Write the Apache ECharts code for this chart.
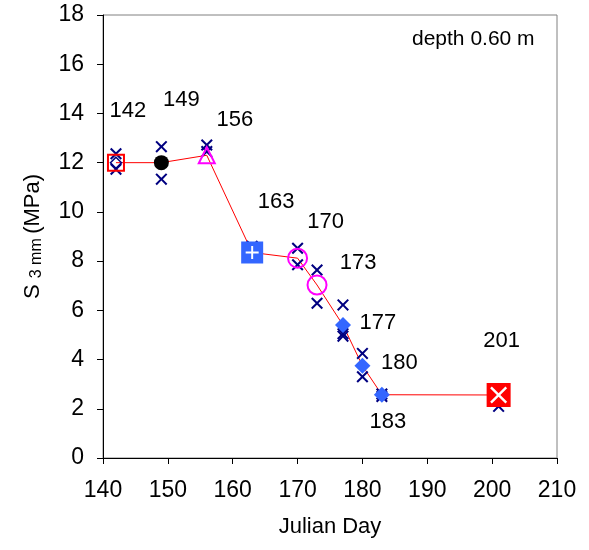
<!DOCTYPE html>
<html>
<head>
<meta charset="utf-8">
<script src="https://cdn.jsdelivr.net/npm/echarts@6/dist/echarts.min.js"></script>
<style>
html,body{margin:0;padding:0;background:#fff;}
#chart{width:589px;height:550px;}
</style>
</head>
<body>
<div id="chart"></div>
<script>
// ---- data ----
const days = [142, 149, 156, 163, 170, 173, 177, 180, 183, 201];
const meanS3 = [12.0, 12.0, 12.3, 8.35, 8.12, 7.03, 5.4, 3.75, 2.57, 2.56];
const dayLabels = ['142', '149', '156', '163', '170', '173', '177', '180', '183', '201'];
const repDays = [142, 142, 149, 149, 156, 156, 163, 163, 170, 170, 173, 173, 177, 177, 177, 180, 180, 183, 183, 201, 201];
const repS3 = [12.36, 11.73, 12.65, 11.33, 12.72, 12.45, 8.6, 8.25, 8.52, 7.85, 7.64, 6.29, 6.22, 5.05, 4.95, 4.25, 3.3, 2.6, 2.5, 2.1, 2.55];
const xMin = 140, xMax = 210, xStep = 10;
const yMin = 0, yMax = 18, yStep = 2;
const depthText = 'depth 0.60 m';

// ---- styles ----
const FONT = "'Liberation Sans', Arial, sans-serif";
const BLUE = '#3366FF', MAG = '#FF00FF', RED = '#FF0000', NAVY = '#000080';
const X_PATH = 'path://M0,1.2L1.2,0L5,3.8L8.8,0L10,1.2L6.2,5L10,8.8L8.8,10L5,6.2L1.2,10L0,8.8L3.8,5Z';
const THIN_X = 'path://M0,1L1,0L5,4L9,0L10,1L6,5L10,9L9,10L5,6L1,10L0,9L4,5Z';
const PLUS = 'path://M4.25,0H5.75V4.25H10V5.75H5.75V10H4.25V5.75H0V4.25H4.25Z';
const markerStyles = [
  {symbol: 'rect', size: 16, item: {color: 'rgba(0,0,0,0)', borderColor: RED, borderWidth: 2, opacity: 1}},
  {symbol: 'circle', size: 15, item: {color: '#000', opacity: 1}},
  {symbol: 'triangle', size: 16, item: {color: 'rgba(0,0,0,0)', borderColor: MAG, borderWidth: 2, opacity: 1}},
  {symbol: 'rect', size: 22, item: {color: BLUE, opacity: 1}},
  {symbol: 'circle', size: 19, item: {color: 'rgba(0,0,0,0)', borderColor: MAG, borderWidth: 2, opacity: 1}},
  {symbol: 'circle', size: 19, item: {color: 'rgba(0,0,0,0)', borderColor: MAG, borderWidth: 2, opacity: 1}},
  {symbol: 'diamond', size: 16, item: {color: BLUE, opacity: 1}},
  {symbol: 'diamond', size: 16, item: {color: BLUE, opacity: 1}},
  {symbol: 'diamond', size: 16, item: {color: BLUE, opacity: 1}},
  {symbol: 'rect', size: 24, item: {color: RED, opacity: 1}}
];
const overlayStyles = {
  0: {symbol: 'diamond', size: 11, item: {color: 'rgba(0,0,0,0)', borderColor: NAVY, borderWidth: 1.5, opacity: 1}},
  3: {symbol: PLUS, size: 13, item: {color: '#fff', opacity: 1}},
  9: {symbol: THIN_X, size: 17, item: {color: '#fff', opacity: 1}}
};
const labelOffsets = [[12, -52], [20, -63], [28, -35], [24, -51], [28, -36], [41, -22], [35, -2], [37, -3], [6, 27], [3, -54]];

const meanPts = days.map((d, i) => [d, meanS3[i]]);

const chart = echarts.init(document.getElementById('chart'), null, {renderer: 'canvas'});
chart.setOption({
  backgroundColor: '#fff',
  animation: false,
  textStyle: {fontFamily: FONT},
  grid: {left: 103, right: 32, top: 15, bottom: 92, show: true, borderColor: '#808080', borderWidth: 1, backgroundColor: 'transparent'},
  xAxis: {
    type: 'value', min: xMin, max: xMax, interval: xStep,
    name: 'Julian Day', nameLocation: 'middle', nameGap: 58,
    nameTextStyle: {fontSize: 22, color: '#000', fontFamily: FONT},
    axisLine: {lineStyle: {color: '#000', width: 1}},
    axisTick: {show: true, length: 6, lineStyle: {color: '#000'}},
    axisLabel: {fontSize: 23, color: '#000', margin: 21, fontFamily: FONT},
    splitLine: {show: false}
  },
  yAxis: {
    type: 'value', min: yMin, max: yMax, interval: yStep,
    name: '{s|S }{sub|3 mm }{s|(MPa)}', nameLocation: 'middle', nameGap: 58,
    nameTextStyle: {fontFamily: FONT, color: '#000', rich: {s: {fontSize: 22, fontFamily: FONT, color: '#000'}, sub: {fontSize: 16, fontFamily: FONT, color: '#000', padding: [8, 0, 0, 0]}}},
    axisLine: {show: true, lineStyle: {color: '#000', width: 1}},
    axisTick: {show: true, length: 6, lineStyle: {color: '#000'}},
    axisLabel: {fontSize: 23, color: '#000', margin: 19, fontFamily: FONT},
    splitLine: {show: false}
  },
  graphic: [{
    type: 'text', left: 412, top: 29,
    style: {text: depthText, font: '21px ' + FONT, fill: '#000'}
  }],
  series: [
    {
      type: 'line', data: meanPts, showSymbol: false, symbol: 'none',
      lineStyle: {color: RED, width: 1}, z: 1, silent: true
    },
    {
      type: 'scatter', data: repDays.map((d, i) => [d, repS3[i]]),
      symbol: X_PATH, symbolSize: 12, itemStyle: {color: NAVY, opacity: 1}, z: 2, silent: true
    },
    {
      type: 'scatter', z: 3, silent: true, itemStyle: {opacity: 1},
      data: meanPts.map((p, i) => ({
        value: p, symbol: markerStyles[i].symbol, symbolSize: markerStyles[i].size, itemStyle: markerStyles[i].item
      }))
    },
    {
      type: 'scatter', z: 4, silent: true, itemStyle: {opacity: 1},
      data: Object.keys(overlayStyles).map(k => {
        const i = +k, s = overlayStyles[k];
        return {value: meanPts[i], symbol: s.symbol, symbolSize: s.size, itemStyle: s.item};
      })
    },
    {
      type: 'scatter', z: 5, silent: true, symbolSize: 0, itemStyle: {opacity: 1},
      data: meanPts.map((p, i) => ({
        value: p,
        label: {show: true, formatter: dayLabels[i], position: 'inside', offset: labelOffsets[i], fontSize: 22, color: '#000', opacity: 1, fontFamily: FONT}
      }))
    }
  ]
});
</script>
</body>
</html>
